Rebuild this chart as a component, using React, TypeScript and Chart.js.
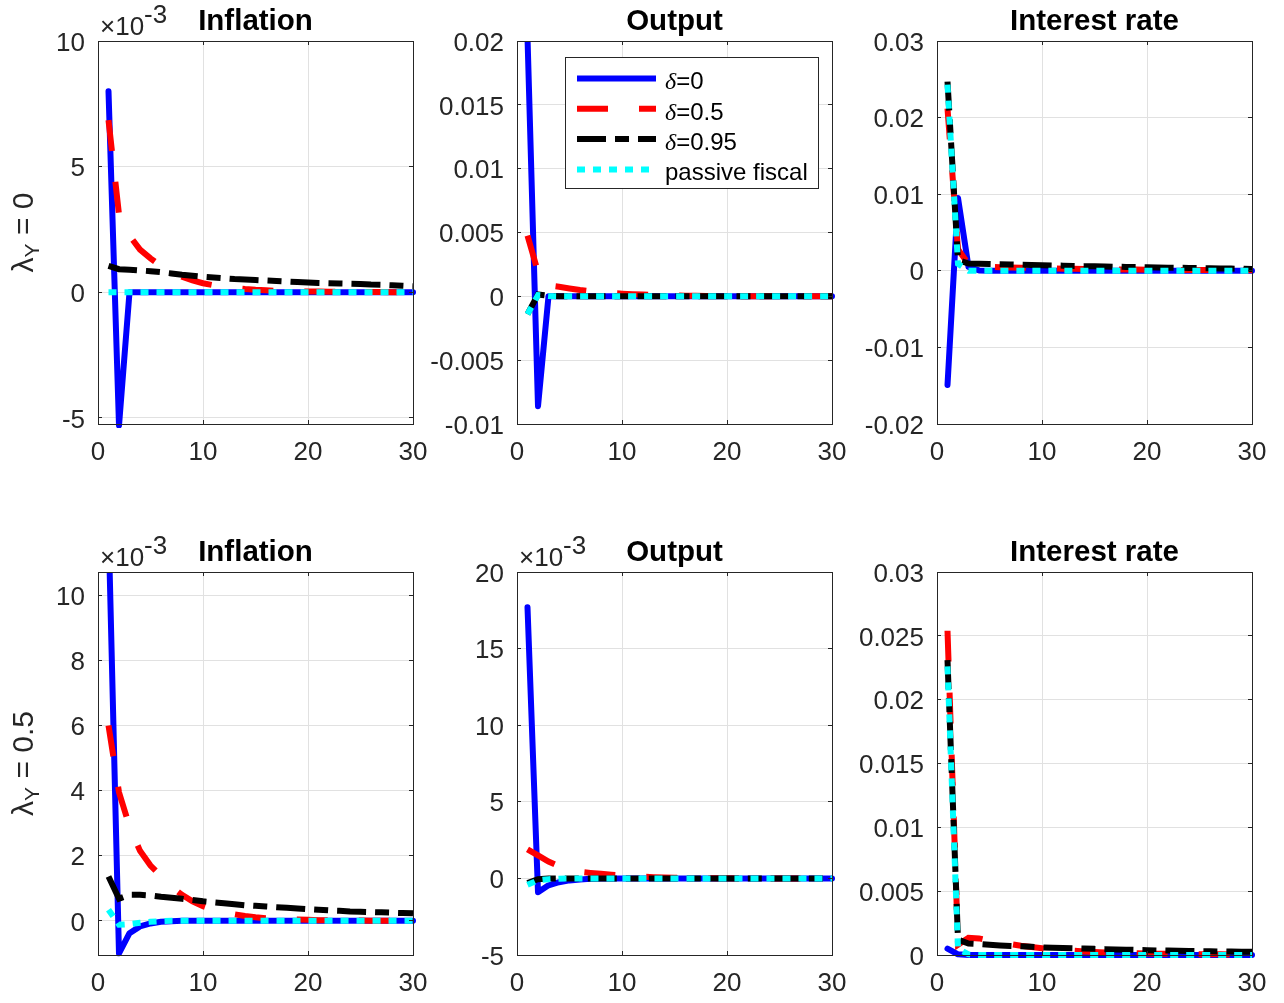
import React, { useEffect, useRef } from "react";
import { Chart, registerables } from "chart.js";

Chart.register(...registerables);

// ---------------- data (values in units of 1e-3) ----------------
const periods = [1, 2, 3, 4, 5, 6, 7, 8, 9, 10, 11, 12, 13, 14, 15, 16, 17, 18, 19, 20, 21, 22, 23, 24, 25, 26, 27, 28, 29, 30];

const seriesLabels = ["δ=0", "δ=0.5", "δ=0.95", "passive fiscal"];
const titles = ["Inflation", "Output", "Interest rate"];
const rowLabels = ["0", "0.5"];
const xTicks = [0, 10, 20, 30];

// lambda_Y = 0 : Inflation
const inflL0_d0 = [8.0, -5.3, 0.0, 0, 0, 0, 0, 0, 0, 0, 0, 0, 0, 0, 0, 0, 0, 0, 0, 0, 0, 0, 0, 0, 0, 0, 0, 0, 0, 0];
const inflL0_d05 = [6.85, 3.1, 2.25, 1.7, 1.35, 1.05, 0.82, 0.62, 0.47, 0.36, 0.28, 0.22, 0.17, 0.13, 0.1, 0.08, 0.06, 0.05, 0.04, 0.03, 0.03, 0.02, 0.02, 0.01, 0.01, 0.01, 0.01, 0, 0, 0];
const inflL0_d095 = [1.05, 0.92, 0.9, 0.87, 0.84, 0.8, 0.75, 0.7, 0.66, 0.62, 0.59, 0.56, 0.53, 0.51, 0.49, 0.47, 0.45, 0.43, 0.41, 0.39, 0.37, 0.36, 0.35, 0.34, 0.33, 0.31, 0.3, 0.28, 0.26, 0.24];
const inflL0_pass = [0, 0, 0, 0, 0, 0, 0, 0, 0, 0, 0, 0, 0, 0, 0, 0, 0, 0, 0, 0, 0, 0, 0, 0, 0, 0, 0, 0, 0, 0];

// lambda_Y = 0 : Output
const outL0_d0 = [20.3, -8.6, 0.0, 0, 0, 0, 0, 0, 0, 0, 0, 0, 0, 0, 0, 0, 0, 0, 0, 0, 0, 0, 0, 0, 0, 0, 0, 0, 0, 0];
const outL0_d05 = [4.75, 1.9, 0.85, 0.75, 0.62, 0.5, 0.4, 0.32, 0.26, 0.21, 0.17, 0.14, 0.11, 0.09, 0.07, 0.05, 0.04, 0.03, 0.02, 0.02, 0.01, 0.01, 0.01, 0, 0, 0, 0, 0, 0, 0];
const outL0_d095 = [-1.4, 0.15, 0.04, 0.01, 0, 0, 0, 0, 0, 0, 0, 0, 0, 0, 0, 0, 0, 0, 0, 0, 0, 0, 0, 0, 0, 0, 0, 0, 0, 0];
const outL0_pass = [-1.4, 0.1, 0.02, 0, 0, 0, 0, 0, 0, 0, 0, 0, 0, 0, 0, 0, 0, 0, 0, 0, 0, 0, 0, 0, 0, 0, 0, 0, 0, 0];

// lambda_Y = 0 : Interest rate
const rateL0_d0 = [-14.9, 9.5, 0.5, 0.05, 0, 0, 0, 0, 0, 0, 0, 0, 0, 0, 0, 0, 0, 0, 0, 0, 0, 0, 0, 0, 0, 0, 0, 0, 0, 0];
const rateL0_d05 = [21.2, 2.8, 0.9, 0.6, 0.52, 0.47, 0.43, 0.4, 0.37, 0.34, 0.31, 0.28, 0.26, 0.24, 0.22, 0.2, 0.18, 0.17, 0.16, 0.15, 0.14, 0.13, 0.12, 0.11, 0.1, 0.09, 0.08, 0.08, 0.07, 0.07];
const rateL0_d095 = [24.7, 1.4, 0.95, 0.92, 0.88, 0.85, 0.82, 0.79, 0.76, 0.73, 0.7, 0.67, 0.64, 0.61, 0.58, 0.55, 0.53, 0.5, 0.48, 0.46, 0.43, 0.41, 0.39, 0.37, 0.35, 0.33, 0.31, 0.29, 0.27, 0.25];
const rateL0_pass = [24.3, 0.9, 0, 0, 0, 0, 0, 0, 0, 0, 0, 0, 0, 0, 0, 0, 0, 0, 0, 0, 0, 0, 0, 0, 0, 0, 0, 0, 0, 0];

// lambda_Y = 0.5 : Inflation
const inflL5_d0 = [12.2, -1.0, -0.38, -0.17, -0.08, -0.03, -0.01, 0, 0, 0, 0, 0, 0, 0, 0, 0, 0, 0, 0, 0, 0, 0, 0, 0, 0, 0, 0, 0, 0, 0];
const inflL5_d05 = [6.0, 3.95, 2.9, 2.15, 1.7, 1.38, 1.05, 0.8, 0.6, 0.45, 0.34, 0.26, 0.2, 0.15, 0.11, 0.08, 0.06, 0.05, 0.04, 0.03, 0.02, 0.02, 0.01, 0.01, 0.01, 0, 0, 0, 0, 0];
const inflL5_d095 = [1.36, 0.68, 0.8, 0.8, 0.78, 0.74, 0.71, 0.68, 0.64, 0.6, 0.57, 0.54, 0.51, 0.48, 0.46, 0.44, 0.42, 0.4, 0.38, 0.36, 0.34, 0.32, 0.31, 0.29, 0.28, 0.27, 0.26, 0.25, 0.24, 0.23];
const inflL5_pass = [0.34, -0.12, -0.1, -0.06, -0.03, -0.01, 0, 0, 0, 0, 0, 0, 0, 0, 0, 0, 0, 0, 0, 0, 0, 0, 0, 0, 0, 0, 0, 0, 0, 0];

// lambda_Y = 0.5 : Output
const outL5_d0 = [17.7, -0.9, -0.45, -0.25, -0.13, -0.07, -0.03, -0.01, 0, 0, 0, 0, 0, 0, 0, 0, 0, 0, 0, 0, 0, 0, 0, 0, 0, 0, 0, 0, 0, 0];
const outL5_d05 = [1.9, 1.5, 1.1, 0.8, 0.55, 0.43, 0.36, 0.3, 0.24, 0.19, 0.15, 0.11, 0.08, 0.06, 0.04, 0.03, 0.02, 0.02, 0.01, 0.01, 0, 0, 0, 0, 0, 0, 0, 0, 0, 0];
const outL5_d095 = [-0.3, -0.05, -0.01, 0, 0, 0, 0, 0, 0, 0, 0, 0, 0, 0, 0, 0, 0, 0, 0, 0, 0, 0, 0, 0, 0, 0, 0, 0, 0, 0];
const outL5_pass = [-0.42, -0.12, -0.05, -0.02, -0.01, 0, 0, 0, 0, 0, 0, 0, 0, 0, 0, 0, 0, 0, 0, 0, 0, 0, 0, 0, 0, 0, 0, 0, 0, 0];

// lambda_Y = 0.5 : Interest rate
const rateL5_d0 = [0.5, 0.05, 0, 0, 0, 0, 0, 0, 0, 0, 0, 0, 0, 0, 0, 0, 0, 0, 0, 0, 0, 0, 0, 0, 0, 0, 0, 0, 0, 0];
const rateL5_d05 = [25.4, 0.8, 1.35, 1.3, 1.12, 0.98, 0.85, 0.72, 0.62, 0.53, 0.45, 0.39, 0.33, 0.28, 0.24, 0.2, 0.17, 0.15, 0.13, 0.11, 0.1, 0.09, 0.08, 0.07, 0.06, 0.05, 0.05, 0.04, 0.04, 0.03];
const rateL5_d095 = [23.1, 1.2, 0.9, 0.86, 0.8, 0.75, 0.71, 0.68, 0.64, 0.6, 0.57, 0.54, 0.52, 0.5, 0.48, 0.46, 0.44, 0.42, 0.4, 0.38, 0.36, 0.35, 0.33, 0.31, 0.3, 0.29, 0.28, 0.27, 0.26, 0.25];
const rateL5_pass = [22.6, 0.5, 0.05, 0, 0, 0, 0, 0, 0, 0, 0, 0, 0, 0, 0, 0, 0, 0, 0, 0, 0, 0, 0, 0, 0, 0, 0, 0, 0, 0];

// y-axis ticks (in units of 1e-3) and their labels
const ticksInflL0 = [-5, 0, 5, 10];
const labelsInflL0 = ["-5", "0", "5", "10"];
const ticksOutL0 = [-10, -5, 0, 5, 10, 15, 20];
const labelsOutL0 = ["-0.01", "-0.005", "0", "0.005", "0.01", "0.015", "0.02"];
const ticksRateL0 = [-20, -10, 0, 10, 20, 30];
const labelsRateL0 = ["-0.02", "-0.01", "0", "0.01", "0.02", "0.03"];
const ticksInflL5 = [0, 2, 4, 6, 8, 10];
const labelsInflL5 = ["0", "2", "4", "6", "8", "10"];
const ticksOutL5 = [-5, 0, 5, 10, 15, 20];
const labelsOutL5 = ["-5", "0", "5", "10", "15", "20"];
const ticksRateL5 = [0, 5, 10, 15, 20, 25, 30];
const labelsRateL5 = ["0", "0.005", "0.01", "0.015", "0.02", "0.025", "0.03"];

// ---------------- styling ----------------
const FONT = '"Liberation Sans", Arial, Helvetica, sans-serif';
const SERIF = '"Liberation Serif", "Times New Roman", serif';
const AXIS_COLOR = "#262626";
const GRID_COLOR = "#e1e1e1";
const COLORS = ["#0000ff", "#ff0000", "#000000", "#00ffff"];
const DASHES: number[][] = [[], [31, 31], [29, 9, 14, 9], [8, 8]];
const ORDERS = [4, 3, 2, 1];
const LINE_W = 6;

const COL_LEFT = [98, 517, 937];
const ROW_TOP = [41, 572];
const PLOT_W = 315;
const PLOT_H = 383;
const CANVAS_W = 433;
const CANVAS_H = 470;
const Y_AXIS_W = 90;
const X_AXIS_H = 40;

type PanelDef = {
  row: number;
  col: number;
  title: string;
  series: number[][];
  yTicks: number[];
  yLabels: string[];
  yMin: number;
  yMax: number;
  exponent: boolean;
  rowLabel?: string;
  legend?: boolean;
};

const panels: PanelDef[] = [
  { row: 0, col: 0, title: titles[0], series: [inflL0_d0, inflL0_d05, inflL0_d095, inflL0_pass], yTicks: ticksInflL0, yLabels: labelsInflL0, yMin: -5.24, yMax: 10, exponent: true, rowLabel: rowLabels[0] },
  { row: 0, col: 1, title: titles[1], series: [outL0_d0, outL0_d05, outL0_d095, outL0_pass], yTicks: ticksOutL0, yLabels: labelsOutL0, yMin: -10, yMax: 20, exponent: false, legend: true },
  { row: 0, col: 2, title: titles[2], series: [rateL0_d0, rateL0_d05, rateL0_d095, rateL0_pass], yTicks: ticksRateL0, yLabels: labelsRateL0, yMin: -20, yMax: 30, exponent: false },
  { row: 1, col: 0, title: titles[0], series: [inflL5_d0, inflL5_d05, inflL5_d095, inflL5_pass], yTicks: ticksInflL5, yLabels: labelsInflL5, yMin: -1.05, yMax: 10.72, exponent: true, rowLabel: rowLabels[1] },
  { row: 1, col: 1, title: titles[1], series: [outL5_d0, outL5_d05, outL5_d095, outL5_pass], yTicks: ticksOutL5, yLabels: labelsOutL5, yMin: -5, yMax: 20, exponent: true },
  { row: 1, col: 2, title: titles[2], series: [rateL5_d0, rateL5_d05, rateL5_d095, rateL5_pass], yTicks: ticksRateL5, yLabels: labelsRateL5, yMin: 0, yMax: 30, exponent: false },
];

function align(p: number) {
  return Math.round(p - 0.5) + 0.5;
}

function makeDecor(def: PanelDef) {
  return {
    id: "decor",
    afterDraw(chart: any) {
      const ctx: CanvasRenderingContext2D = chart.ctx;
      const { left, right, top, bottom } = chart.chartArea;
      const xs = chart.scales.x;
      const ys = chart.scales.y;
      ctx.save();
      // inward tick marks
      ctx.strokeStyle = AXIS_COLOR;
      ctx.lineWidth = 1;
      ctx.setLineDash([]);
      ctx.beginPath();
      for (const v of xTicks) {
        const px = align(xs.getPixelForValue(v));
        ctx.moveTo(px, bottom);
        ctx.lineTo(px, bottom - 4);
        ctx.moveTo(px, top);
        ctx.lineTo(px, top + 4);
      }
      for (const v of def.yTicks) {
        const py = align(ys.getPixelForValue(v));
        ctx.moveTo(left, py);
        ctx.lineTo(left + 4, py);
        ctx.moveTo(right, py);
        ctx.lineTo(right - 4, py);
      }
      ctx.stroke();
      // axes box
      const l = align(left), r = align(right), t = align(top), b = align(bottom);
      ctx.strokeRect(l, t, r - l, b - t);

      // title
      ctx.fillStyle = "#000000";
      ctx.font = `bold 29.5px ${FONT}`;
      ctx.textAlign = "center";
      ctx.textBaseline = "alphabetic";
      ctx.fillText(def.title, (left + right) / 2, top - 11);

      // exponent label
      if (def.exponent) {
        ctx.fillStyle = AXIS_COLOR;
        ctx.font = `26px ${FONT}`;
        ctx.textAlign = "left";
        ctx.fillText("×10", left + 2, top - 6);
        const w = ctx.measureText("×10").width;
        ctx.fillText("-3", left + 2 + w, top - 18.5);
      }

      // row label (rotated)
      if (def.rowLabel !== undefined) {
        const parts = [
          { t: "λ", f: `30px ${FONT}`, dy: 0 },
          { t: "Y", f: `21px ${FONT}`, dy: 6 },
          { t: " = " + def.rowLabel, f: `30px ${FONT}`, dy: 0 },
        ];
        let total = 0;
        const widths = parts.map((p) => {
          ctx.font = p.f;
          const w = ctx.measureText(p.t).width;
          total += w;
          return w;
        });
        ctx.save();
        ctx.translate(32.5, (top + bottom) / 2);
        ctx.rotate(-Math.PI / 2);
        ctx.fillStyle = AXIS_COLOR;
        ctx.textAlign = "left";
        let x = -total / 2;
        parts.forEach((p, i) => {
          ctx.font = p.f;
          ctx.fillText(p.t, x, p.dy);
          x += widths[i];
        });
        ctx.restore();
      }

      // legend
      if (def.legend) {
        const bx = align(left + 48), by = align(top + 16);
        const bw = 253, bh = 131;
        ctx.fillStyle = "#ffffff";
        ctx.fillRect(bx, by, bw, bh);
        ctx.strokeStyle = AXIS_COLOR;
        ctx.lineWidth = 1;
        ctx.strokeRect(bx, by, bw, bh);
        const rowsY = [37.5, 67.8, 98.1, 128.4];
        seriesLabels.forEach((lab, i) => {
          const y = top + rowsY[i];
          ctx.save();
          ctx.strokeStyle = COLORS[i];
          ctx.lineWidth = LINE_W;
          ctx.lineCap = "butt";
          ctx.setLineDash(DASHES[i]);
          ctx.beginPath();
          ctx.moveTo(left + 60, y);
          ctx.lineTo(left + 139, y);
          ctx.stroke();
          ctx.restore();
          ctx.fillStyle = "#000000";
          ctx.textAlign = "left";
          let tx = left + 148;
          if (lab.startsWith("δ")) {
            ctx.font = `italic 24px ${SERIF}`;
            ctx.fillText("δ", tx, y + 10.8);
            tx += ctx.measureText("δ").width;
            ctx.font = `24px ${FONT}`;
            ctx.fillText(lab.slice(1), tx, y + 10.8);
          } else {
            ctx.font = `24px ${FONT}`;
            ctx.fillText(lab, tx, y + 10.8);
          }
        });
      }
      ctx.restore();
    },
  };
}

function Panel({ def }: { def: PanelDef }) {
  const ref = useRef<HTMLCanvasElement | null>(null);
  useEffect(() => {
    if (!ref.current) return;
    const datasets = def.series.map((vals, i) => ({
      label: seriesLabels[i],
      data: periods.map((p, j) => ({ x: p, y: vals[j] })),
      borderColor: COLORS[i],
      backgroundColor: COLORS[i],
      borderWidth: LINE_W,
      borderDash: DASHES[i],
      borderCapStyle: i === 0 ? "round" : "butt",
      borderJoinStyle: i === 0 ? "round" : "miter",
      pointRadius: 0,
      tension: 0,
      fill: false,
      order: ORDERS[i],
      clip: { left: 4, right: 4, top: 0, bottom: 4 },
    }));
    const chart = new Chart(ref.current, {
      type: "line",
      data: { datasets } as any,
      options: {
        responsive: false,
        animation: false,
        devicePixelRatio: 1,
        events: [],
        layout: {
          padding: {
            left: 98 - Y_AXIS_W,
            top: 41,
            right: CANVAS_W - 98 - PLOT_W,
            bottom: CANVAS_H - 41 - PLOT_H - X_AXIS_H,
          },
        },
        plugins: {
          legend: { display: false },
          tooltip: { enabled: false },
          title: { display: false },
        },
        scales: {
          x: {
            type: "linear",
            min: 0,
            max: 30,
            afterBuildTicks: (s: any) => {
              s.ticks = xTicks.map((v) => ({ value: v }));
            },
            afterFit: (s: any) => {
              s.height = X_AXIS_H;
              s.paddingLeft = 0;
              s.paddingRight = 0;
            },
            grid: { color: GRID_COLOR, lineWidth: 1, drawTicks: false },
            border: { display: false },
            ticks: {
              color: AXIS_COLOR,
              font: { family: FONT, size: 26 },
              padding: 13,
              maxRotation: 0,
              minRotation: 0,
              autoSkip: false,
              callback: (v: any) => String(v),
            },
          },
          y: {
            type: "linear",
            min: def.yMin,
            max: def.yMax,
            afterBuildTicks: (s: any) => {
              s.ticks = def.yTicks.map((v) => ({ value: v }));
            },
            afterFit: (s: any) => {
              s.width = Y_AXIS_W;
              s.paddingTop = 0;
              s.paddingBottom = 0;
            },
            grid: { color: GRID_COLOR, lineWidth: 1, drawTicks: false },
            border: { display: false },
            ticks: {
              color: AXIS_COLOR,
              font: { family: FONT, size: 26 },
              padding: 13,
              labelOffset: 2.5,
              autoSkip: false,
              callback: (v: any) => {
                const k = def.yTicks.indexOf(Number(v));
                return k >= 0 ? def.yLabels[k] : "";
              },
            },
          },
        },
      } as any,
      plugins: [makeDecor(def)],
    });
    return () => chart.destroy();
  }, [def]);

  return (
    <canvas
      ref={ref}
      width={CANVAS_W}
      height={CANVAS_H}
      style={{
        position: "absolute",
        left: COL_LEFT[def.col] - 98,
        top: ROW_TOP[def.row] - 41,
        width: CANVAS_W,
        height: CANVAS_H,
        display: "block",
      }}
    />
  );
}

export default function App() {
  return (
    <div
      style={{
        position: "absolute",
        left: 0,
        top: 0,
        width: 1284,
        height: 1003,
        overflow: "hidden",
        background: "#ffffff",
      }}
    >
      {panels.map((p, i) => (
        <Panel key={i} def={p} />
      ))}
    </div>
  );
}
